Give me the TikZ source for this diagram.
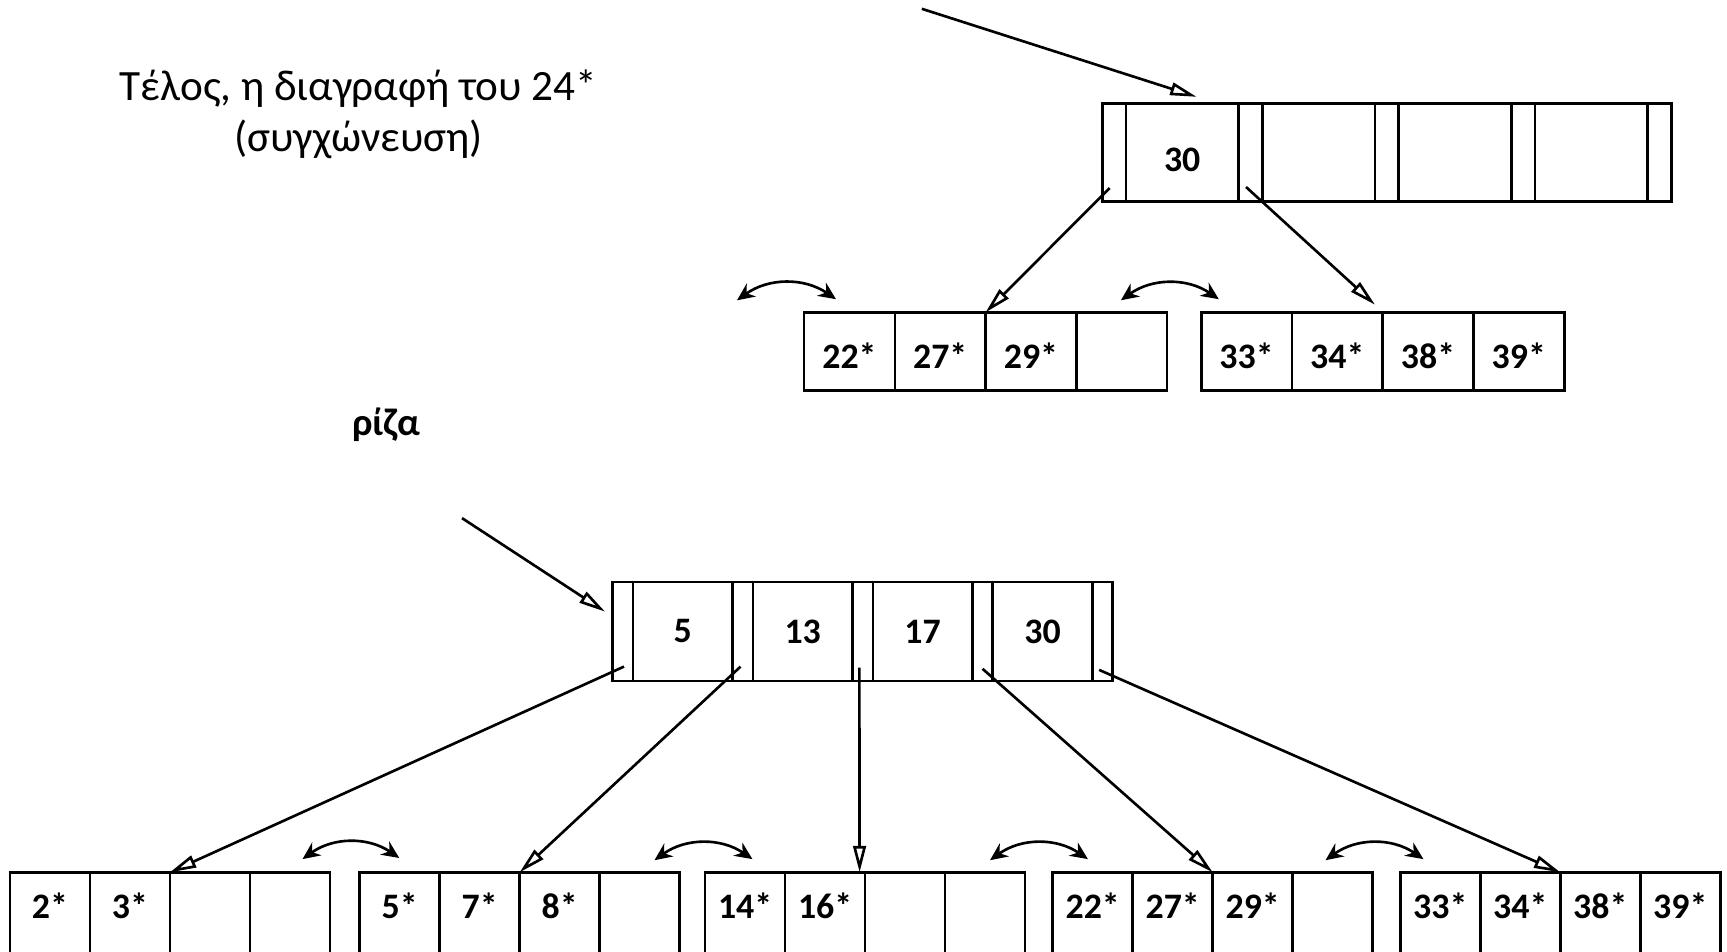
\documentclass[tikz,border=0pt]{standalone}
\usepackage{fontspec}
\setmainfont{Carlito}
\usetikzlibrary{positioning,calc,arrows.meta}

\tikzset{
    box/.style={draw, line width=0.75pt, inner sep=0pt, outer sep=0pt,
        font=\bfseries\fontsize{10.2}{12}\selectfont},
    topslot/.style={box, minimum width=0.2365cm, minimum height=0.979cm},
    topkey/.style={box, minimum width=1.1275cm, minimum height=0.979cm,
        text height=0.387cm, text depth=0cm},
    rootslot/.style={box, minimum width=0.2035cm, minimum height=0.99cm},
    rootkey/.style={box, minimum width=0.9955cm, minimum height=0.99cm},
    topleaf/.style={box, minimum width=0.9075cm, minimum height=0.781cm,
        text height=0.342cm, text depth=0cm},
    leaf/.style={box, minimum width=0.8cm, minimum height=1.3cm,
        text height=0.25cm, text depth=0.626cm},
    ptr/.style={line width=0.75pt, -{Triangle[open, length=7.5pt, width=3.6pt]}},
    sibling/.style={line width=0.75pt, {Stealth[length=5pt, width=4.5pt]}-{Stealth[length=5pt, width=4.5pt]}},
}

\begin{document}
\begin{tikzpicture}[x=0.011cm, y=-0.011cm]
    \useasboundingbox (0,0) rectangle (1570,865);
    \clip (0,0) rectangle (1570,865);

    % caption and root label
    \node[align=center, font=\fontsize{12.3}{14.6}\selectfont] (title) at (326,104)
        {Τέλος, η διαγραφή του 24*\\(συγχώνευση)};
    \node[font=\bfseries\fontsize{11}{13}\selectfont] (rootlabel) at (351,386) {ρίζα};

    % top index node
    \node[topslot, anchor=north west] (ts1) at (1002,94) {};
    \node[topkey, right=0pt of ts1] (tk1) {30};
    \node[topslot, right=0pt of tk1] (ts2) {};
    \node[topkey, right=0pt of ts2] (tk2) {};
    \node[topslot, right=0pt of tk2] (ts3) {};
    \node[topkey, right=0pt of ts3] (tk3) {};
    \node[topslot, right=0pt of tk3] (ts4) {};
    \node[topkey, right=0pt of ts4] (tk4) {};
    \node[topslot, right=0pt of tk4] (ts5) {};

    % top leaves
    \node[topleaf, anchor=north west] (ta1) at (731,284) {22*};
    \node[topleaf, right=0pt of ta1] (ta2) {27*};
    \node[topleaf, right=0pt of ta2] (ta3) {29*};
    \node[topleaf, right=0pt of ta3] (ta4) {};
    \node[topleaf, anchor=north west] (tb1) at (1092,284) {33*};
    \node[topleaf, right=0pt of tb1] (tb2) {34*};
    \node[topleaf, right=0pt of tb2] (tb3) {38*};
    \node[topleaf, right=0pt of tb3] (tb4) {39*};

    % top pointers
    \coordinate (topin) at (838,8);
    \draw[ptr] (topin) -- ($(tk1.north)+(13,-6)$);
    \draw[ptr] ($(ts1.south)+(-4,-12)$) -- (ta2.north east);
    \draw[ptr] ($(ts2.south)+(-4,-13)$) -- ($(tb2.north east)+(-7,-7)$);

    % top sibling links
    \coordinate (tsa) at (670,273);
    \coordinate (tsb) at (760,272);
    \coordinate (tsc) at (1019,273);
    \coordinate (tsd) at (1108,272);
    \draw[sibling] (tsa) to[bend left=35] (tsb);
    \draw[sibling] (tsc) to[bend left=35] (tsd);

    % root node
    \node[rootslot, anchor=north west] (rs1) at (557,529) {};
    \node[rootkey, right=0pt of rs1] (rk1) {5};
    \node[rootslot, right=0pt of rk1] (rs2) {};
    \node[rootkey, right=0pt of rs2] (rk2) {13};
    \node[rootslot, right=0pt of rk2] (rs3) {};
    \node[rootkey, right=0pt of rs3] (rk3) {17};
    \node[rootslot, right=0pt of rk3] (rs4) {};
    \node[rootkey, right=0pt of rs4] (rk4) {30};
    \node[rootslot, right=0pt of rk4] (rs5) {};

    % bottom leaves
    \node[leaf, anchor=north west] (l1a) at (9,793) {2*};
    \node[leaf, right=0pt of l1a] (l1b) {3*};
    \node[leaf, right=0pt of l1b] (l1c) {};
    \node[leaf, right=0pt of l1c] (l1d) {};

    \node[leaf, anchor=north west] (l2a) at (327,793) {5*};
    \node[leaf, right=0pt of l2a] (l2b) {7*};
    \node[leaf, right=0pt of l2b] (l2c) {8*};
    \node[leaf, right=0pt of l2c] (l2d) {};

    \node[leaf, anchor=north west] (l3a) at (641,793) {14*};
    \node[leaf, right=0pt of l3a] (l3b) {16*};
    \node[leaf, right=0pt of l3b] (l3c) {};
    \node[leaf, right=0pt of l3c] (l3d) {};

    \node[leaf, anchor=north west] (l4a) at (957,793) {22*};
    \node[leaf, right=0pt of l4a] (l4b) {27*};
    \node[leaf, right=0pt of l4b] (l4c) {29*};
    \node[leaf, right=0pt of l4c] (l4d) {};

    \node[leaf, anchor=north west] (l5a) at (1273,793) {33*};
    \node[leaf, right=0pt of l5a] (l5b) {34*};
    \node[leaf, right=0pt of l5b] (l5c) {38*};
    \node[leaf, right=0pt of l5c] (l5d) {39*};

    % root pointers
    \coordinate (rootin) at (420,471);
    \draw[ptr] (rootin) -- ($(rs1.north west)+(-7,27)$);
    \draw[ptr] ($(rs1.south)+(1,-13)$) -- (l1b.north east);
    \draw[ptr] ($(rs2.south)+(-2,-13)$) -- (l2b.north east);
    \draw[ptr] ($(rs3.south)+(-3,-12)$) -- ($(l3b.north east)+(-5,0)$);
    \draw[ptr] ($(rs4.south)+(0,-11)$) -- (l4b.north east);
    \draw[ptr] ($(rs5.south)+(-3,-10)$) -- (l5b.north east);

    % bottom sibling links
    \coordinate (bsa) at (275,781);
    \coordinate (bsb) at (363,780);
    \coordinate (bsc) at (595,782);
    \coordinate (bsd) at (684,781);
    \coordinate (bse) at (900,782);
    \coordinate (bsf) at (989,781);
    \coordinate (bsg) at (1205,782);
    \coordinate (bsh) at (1294,781);
    \draw[sibling] (bsa) to[bend left=35] (bsb);
    \draw[sibling] (bsc) to[bend left=35] (bsd);
    \draw[sibling] (bse) to[bend left=35] (bsf);
    \draw[sibling] (bsg) to[bend left=35] (bsh);
\end{tikzpicture}
\end{document}
